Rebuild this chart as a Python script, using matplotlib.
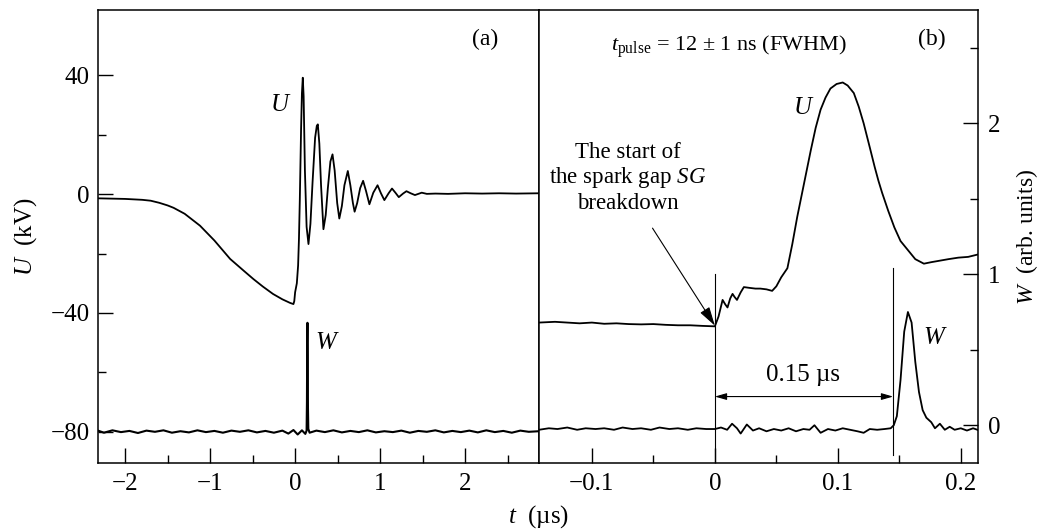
import matplotlib
matplotlib.use("Agg")
import matplotlib.pyplot as plt

plt.rcParams["font.family"] = ["Liberation Serif", "DejaVu Serif"]
plt.rcParams["mathtext.fontset"] = "custom"
plt.rcParams["mathtext.rm"] = "Liberation Serif"
plt.rcParams["mathtext.it"] = "Liberation Serif:italic"

# ---- panel (a): long time scale, U in kV, W shifted down ----
ua_t = [-2.32, -2.0, -1.8, -1.7, -1.6, -1.5, -1.43, -1.3, -1.12, -0.95, -0.765,
        -0.6, -0.49, -0.38, -0.26, -0.15, -0.06, -0.02, -0.01, 0.0, 0.01, 0.02,
        0.035, 0.045, 0.055, 0.07, 0.08, 0.09, 0.10, 0.115, 0.135, 0.157, 0.18,
        0.205, 0.235, 0.255, 0.267, 0.285, 0.305, 0.333, 0.36, 0.385, 0.415, 0.44,
        0.465, 0.495, 0.52, 0.55, 0.58, 0.62, 0.65, 0.68, 0.70, 0.73, 0.765, 0.80,
        0.835, 0.874, 0.92, 0.97, 1.01, 1.05, 1.10, 1.14, 1.18, 1.22, 1.27,
        1.31, 1.36, 1.41, 1.45, 1.49, 1.55, 1.65, 1.8, 2.0, 2.2, 2.4, 2.6, 2.87]
ua_v = [-1.4, -1.6, -1.9, -2.2, -2.9, -3.8, -4.6, -6.6, -10.6, -15.6, -21.8,
        -25.9, -28.6, -31.1, -33.6, -35.4, -36.6, -37.0, -36.0, -33.0, -31.5,
        -30.0, -24.0, -15.0, -2.0, 22.0, 34.0, 39.2, 33.0, 8.0, -11.0, -16.8,
        -10.0, 4.0, 19.0, 23.0, 23.5, 17.0, 3.0, -11.8, -7.0, 2.0, 11.0, 13.4,
        8.0, -3.0, -8.2, -4.0, 3.0, 7.8, 3.0, -3.0, -5.9, -3.0, 2.0, 4.5,
        1.0, -3.4, 0.5, 3.0, 0.3, -2.0, 0.3, 1.9, 0.5, -1.0, 0.2,
        1.0, 0.3, -0.3, 0.1, 0.5, 0.1, 0.2, 0.1, 0.3, 0.2, 0.3, 0.2, 0.3]

wa_t = [-2.32, -2.25, -2.15, -2.05, -1.95, -1.85, -1.75, -1.65, -1.55, -1.45,
        -1.35, -1.25, -1.15, -1.05, -0.95, -0.85, -0.75, -0.65, -0.55, -0.45,
        -0.35, -0.25, -0.15, -0.08, -0.02, 0.03, 0.08, 0.12, 0.135, 0.139,
        0.142, 0.145, 0.148, 0.151, 0.155, 0.17, 0.25, 0.35, 0.45, 0.55, 0.65,
        0.75, 0.85, 0.95, 1.05, 1.15, 1.25, 1.35, 1.45, 1.55, 1.65, 1.75, 1.85,
        1.95, 2.05, 2.15, 2.25, 2.35, 2.45, 2.55, 2.65, 2.75, 2.87]
wa_v = [-79.6, -80.3, -79.5, -80.1, -79.7, -80.4, -79.6, -80.0, -79.5, -80.3,
        -79.8, -80.2, -79.5, -80.1, -79.7, -80.3, -79.6, -80.0, -79.5, -80.2,
        -79.7, -80.3, -79.6, -80.6, -79.4, -80.9, -79.5, -80.7, -79.6, -70.0,
        -50.0, -43.3, -55.0, -72.0, -79.0, -80.3, -79.6, -80.1, -79.5, -80.2,
        -79.7, -80.1, -79.5, -80.2, -79.8, -80.1, -79.6, -80.3, -79.7, -80.0,
        -79.5, -80.2, -79.7, -80.1, -79.6, -80.2, -79.5, -80.1, -79.7, -80.3,
        -79.6, -80.0, -79.8]

# ---- panel (b): zoom around breakdown, arb. units ----
ub_t = [-0.143, -0.13, -0.12, -0.11, -0.1, -0.09, -0.08, -0.07, -0.06, -0.05,
        -0.04, -0.03, -0.02, -0.01, 0.0, 0.003, 0.0063, 0.0085, 0.0103, 0.0125,
        0.0144, 0.016, 0.018, 0.021, 0.0236, 0.028, 0.033, 0.037, 0.042, 0.0466,
        0.05, 0.054, 0.059, 0.063, 0.067, 0.072, 0.078, 0.082, 0.086, 0.090,
        0.094, 0.099, 0.104, 0.108, 0.113, 0.117, 0.121, 0.126, 0.130, 0.133,
        0.136, 0.141, 0.146, 0.151, 0.157, 0.163, 0.170, 0.176, 0.183, 0.19,
        0.198, 0.206, 0.2135]
ub_v = [0.68, 0.685, 0.68, 0.675, 0.68, 0.672, 0.675, 0.67, 0.668, 0.67,
        0.665, 0.662, 0.662, 0.658, 0.655, 0.72, 0.83, 0.80, 0.78, 0.84,
        0.87, 0.85, 0.83, 0.88, 0.915, 0.91, 0.905, 0.905, 0.90, 0.89,
        0.92, 0.98, 1.04, 1.2, 1.38, 1.58, 1.82, 1.97, 2.09, 2.17,
        2.23, 2.26, 2.27, 2.25, 2.20, 2.11, 2.0, 1.84, 1.71, 1.62,
        1.54, 1.42, 1.31, 1.22, 1.16, 1.10, 1.07, 1.08, 1.09, 1.10,
        1.11, 1.115, 1.13]

wb_t = [-0.143, -0.135, -0.128, -0.12, -0.112, -0.105, -0.097, -0.09, -0.082,
        -0.075, -0.067, -0.06, -0.052, -0.045, -0.037, -0.03, -0.022, -0.015,
        -0.007, 0.0, 0.005, 0.01, 0.014, 0.018, 0.021, 0.026, 0.031, 0.036,
        0.042, 0.048, 0.054, 0.06, 0.066, 0.072, 0.077, 0.081, 0.086, 0.092,
        0.098, 0.104, 0.11, 0.116, 0.121, 0.126, 0.132, 0.138, 0.143, 0.1455,
        0.148, 0.151, 0.154, 0.157, 0.160, 0.163, 0.166, 0.169, 0.172, 0.176,
        0.179, 0.183, 0.187, 0.191, 0.195, 0.2, 0.205, 0.21, 0.2135]
wb_v = [-0.03, -0.02, -0.025, -0.015, -0.03, -0.02, -0.025, -0.02, -0.03,
        -0.015, -0.025, -0.02, -0.03, -0.015, -0.025, -0.02, -0.03, -0.02,
        -0.025, -0.025, -0.015, -0.03, 0.01, -0.02, -0.055, 0.005, -0.035, -0.02,
        -0.04, -0.025, -0.035, -0.02, -0.04, -0.025, -0.03, 0.0, -0.05, -0.025,
        -0.035, -0.02, -0.03, -0.04, -0.05, -0.025, -0.03, -0.025, -0.02, 0.0,
        0.06, 0.30, 0.62, 0.75, 0.68, 0.42, 0.22, 0.10, 0.05, 0.02,
        -0.02, 0.01, -0.03, -0.01, -0.03, -0.02, -0.035, -0.02, -0.03]

a_xticks = [-2, -1, 0, 1, 2]
a_yticks = [-80, -40, 0, 40]
b_xticks = [-0.1, 0, 0.1, 0.2]
b_xlabels = ["\u22120.1", "0", "0.1", "0.2"]
b_yticks = [0, 1, 2]
t_breakdown = 0.0
t_laser = 0.145

fig = plt.figure(figsize=(10.44, 5.29), dpi=100)
W, H = 1044, 529
axa = fig.add_axes([98 / W, (529 - 463) / H, (539 - 98) / W, (463 - 10) / H])
axb = fig.add_axes([539 / W, (529 - 463) / H, (978 - 539) / W, (463 - 10) / H])

lw = 1.3
for ax in (axa, axb):
    for s in ax.spines.values():
        s.set_linewidth(1.1)
    ax.tick_params(which="major", direction="in", length=11, width=1.0, labelsize=18)
    ax.tick_params(which="minor", direction="in", length=5.5, width=1.0)

# panel (a)
axa.plot(ua_t, ua_v, color="black", lw=lw)
axa.plot(wa_t, wa_v, color="black", lw=1.5)
axa.set_xlim(-2.32, 2.87)
axa.set_ylim(-90.5, 62)
axa.set_xticks(a_xticks)
axa.set_xticks([-1.5, -0.5, 0.5, 1.5, 2.5], minor=True)
axa.set_yticks(a_yticks)
axa.set_yticks([-60, -20, 20], minor=True)
axa.tick_params(axis="both", which="both", top=False, right=False)
axa.tick_params(axis="y", pad=6)
axa.tick_params(axis="x", pad=7)
axa.set_ylabel("$U$  (kV)", fontsize=18, labelpad=8)
axa.text(-0.165, 30, "$U$", fontsize=18, ha="center", va="center")
axa.text(0.38, -50, "$W$", fontsize=18, ha="center", va="center")
axa.text(0.877, 0.935, "(a)", transform=axa.transAxes, fontsize=17,
         ha="center", va="center")

# panel (b)
axb.plot(ub_t, ub_v, color="black", lw=lw)
axb.plot(wb_t, wb_v, color="black", lw=lw)
axb.set_xlim(-0.143, 0.214)
axb.set_ylim(-0.25, 2.75)
axb.set_xticks(b_xticks, b_xlabels)
axb.set_xticks([-0.05, 0.05, 0.15], minor=True)
axb.set_yticks(b_yticks)
axb.set_yticks([0.5, 1.5, 2.5], minor=True)
axb.tick_params(axis="both", which="both", top=False, left=False,
                labelleft=False, right=True, labelright=True)
axb.tick_params(axis="y", pad=7)
axb.tick_params(axis="x", pad=7)
axb.yaxis.set_label_position("right")
axb.set_ylabel("$W$  (arb. units)", fontsize=17, labelpad=10)

axb.plot([t_breakdown, t_breakdown], [1.0, -0.25], color="black", lw=0.8)
axb.plot([t_laser, t_laser], [1.04, -0.2], color="black", lw=0.8)
axb.annotate("", xy=(t_laser, 0.19), xytext=(t_breakdown, 0.19),
             arrowprops=dict(arrowstyle="<|-|>,head_length=0.7,head_width=0.2",
                             color="black", lw=0.8, shrinkA=0, shrinkB=0))
axb.text(0.0713, 0.335, "0.15 \u00b5s", fontsize=18, ha="center", va="center")
axb.annotate("The start of\nthe spark gap $SG$\nbreakdown",
             xy=(t_breakdown, 0.66), xytext=(-0.071, 1.64),
             fontsize=16.5, ha="center", va="center", linespacing=1.15,
             arrowprops=dict(arrowstyle="-|>,head_length=0.7,head_width=0.2",
                             color="black", lw=0.8, shrinkA=10, shrinkB=0,
                             relpos=(0.6, 0.0)))
axb.text(0.0724, 2.10, "$U$", fontsize=18, ha="center", va="center")
axb.text(0.179, 0.58, "$W$", fontsize=18, ha="center", va="center")
axb.text(-0.0846, 2.48, "$t_{\\mathrm{pulse}}$ = 12 \u00b1 1 ns (FWHM)",
         fontsize=16, ha="left", va="baseline")
axb.text(0.895, 0.935, "(b)", transform=axb.transAxes, fontsize=17,
         ha="center", va="center")

fig.text(539 / W, 1 - 517 / H, "$t$  (\u00b5s)", fontsize=18, ha="center", va="center")

fig.savefig("out.png", dpi=100)
